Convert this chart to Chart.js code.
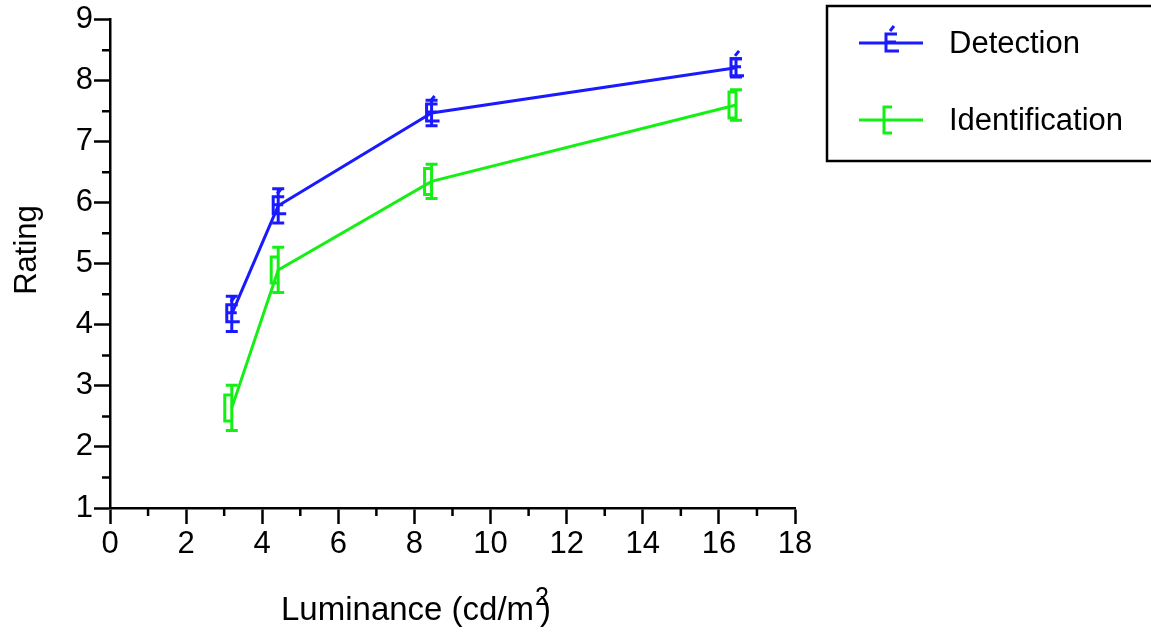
<!DOCTYPE html>
<html lang="en">
<head>
    <meta charset="UTF-8">
    <title>Rating vs Luminance</title>
    <script src="https://cdn.jsdelivr.net/npm/chart.js"></script>
    <style>
        body {
            margin: 0;
            background: #ffffff;
        }
        #wrap {
            width: 1151px;
            height: 632px;
        }
    </style>
</head>
<body>
    <div id="wrap">
        <canvas id="ratingChart" width="1151" height="632"></canvas>
    </div>

    <script>
        // values
        const luminance = [3.2, 4.42, 8.45, 16.45];
        const detection = [4.18, 5.95, 7.47, 8.21];
        const detectionErr = [0.29, 0.28, 0.21, 0.15];
        const identification = [2.64, 4.9, 6.35, 7.6];
        const identificationErr = [0.37, 0.37, 0.28, 0.25];

        const xTicks = [0, 2, 4, 6, 8, 10, 12, 14, 16, 18];
        const yTicks = [1, 2, 3, 4, 5, 6, 7, 8, 9];

        const FONT = "'Liberation Sans', Arial, sans-serif";
        const BLUE = "#1a1aff";
        const GREEN = "#14f014";

        function toPoints(xs, ys) {
            return xs.map((x, i) => ({ x: x, y: ys[i] }));
        }

        // marker shapes (the original uses odd font glyphs)
        function drawE(ctx, x, y, color) {
            ctx.save();
            ctx.strokeStyle = color;
            ctx.lineWidth = 3;
            ctx.beginPath();
            ctx.moveTo(x + 6, y - 9);
            ctx.lineTo(x - 5, y - 9);
            ctx.lineTo(x - 5, y + 8);
            ctx.lineTo(x + 8, y + 8);
            ctx.moveTo(x - 5, y - 1);
            ctx.lineTo(x + 5, y - 1);
            ctx.moveTo(x - 1, y - 12);
            ctx.lineTo(x + 3, y - 17);
            ctx.stroke();
            ctx.restore();
        }

        function drawBracket(ctx, x, y, color) {
            ctx.save();
            ctx.strokeStyle = color;
            ctx.lineWidth = 3;
            ctx.beginPath();
            ctx.moveTo(x + 1, y - 13);
            ctx.lineTo(x - 7, y - 13);
            ctx.lineTo(x - 7, y + 13);
            ctx.lineTo(x + 1, y + 13);
            ctx.stroke();
            ctx.restore();
        }

        const errorBars = {
            id: "errorBars",
            afterDatasetsDraw(chart) {
                const ctx = chart.ctx;
                const xs = chart.scales.x;
                const ys = chart.scales.y;
                chart.data.datasets.forEach(ds => {
                    ds.data.forEach((p, i) => {
                        const px = xs.getPixelForValue(p.x);
                        const py = ys.getPixelForValue(p.y);
                        const top = ys.getPixelForValue(p.y + ds.errors[i]);
                        const bot = ys.getPixelForValue(p.y - ds.errors[i]);
                        ctx.save();
                        ctx.strokeStyle = ds.borderColor;
                        ctx.lineWidth = 3;
                        ctx.beginPath();
                        ctx.moveTo(px, top);
                        ctx.lineTo(px, bot);
                        ctx.moveTo(px - 6, top);
                        ctx.lineTo(px + 6, top);
                        ctx.moveTo(px - 6, bot);
                        ctx.lineTo(px + 6, bot);
                        ctx.stroke();
                        ctx.restore();
                        ds.marker(ctx, px, py, ds.borderColor);
                    });
                });
            }
        };

        const extras = {
            id: "extras",
            afterDraw(chart) {
                const ctx = chart.ctx;
                const xs = chart.scales.x;
                const ys = chart.scales.y;
                const area = chart.chartArea;

                // minor ticks
                ctx.save();
                ctx.strokeStyle = "#000";
                ctx.lineWidth = 2.5;
                ctx.beginPath();
                for (let v = 1; v < 18; v += 2) {
                    const px = xs.getPixelForValue(v);
                    ctx.moveTo(px, area.bottom);
                    ctx.lineTo(px, area.bottom + 8);
                }
                for (let v = 1.5; v < 9; v += 1) {
                    const py = ys.getPixelForValue(v);
                    ctx.moveTo(area.left - 8, py);
                    ctx.lineTo(area.left, py);
                }
                ctx.stroke();

                // axis titles
                ctx.fillStyle = "#000";
                ctx.textBaseline = "alphabetic";
                ctx.textAlign = "left";
                const main = "Luminance (cd/m";
                ctx.font = "33px " + FONT;
                const wMain = ctx.measureText(main).width;
                const tx = 281;
                ctx.fillText(main, tx, 620);
                ctx.font = "25px " + FONT;
                ctx.fillText("2", tx + wMain + 1, 605);
                ctx.font = "33px " + FONT;
                ctx.fillText(")", tx + wMain + 6, 620);

                ctx.save();
                ctx.translate(36, 250);
                ctx.rotate(-Math.PI / 2);
                ctx.textAlign = "center";
                ctx.font = "31px " + FONT;
                ctx.fillText("Rating", 0, 0);
                ctx.restore();

                // legend box
                ctx.lineWidth = 2.5;
                ctx.strokeStyle = "#000";
                ctx.strokeRect(827, 6, 340, 155);
                const rows = [43, 120];
                chart.data.datasets.forEach((ds, i) => {
                    const y = rows[i];
                    ctx.strokeStyle = ds.borderColor;
                    ctx.lineWidth = 3;
                    ctx.beginPath();
                    ctx.moveTo(859, y);
                    ctx.lineTo(923, y);
                    ctx.stroke();
                    ds.marker(ctx, 891, y, ds.borderColor);
                    ctx.fillStyle = "#000";
                    ctx.font = "31px " + FONT;
                    ctx.textAlign = "left";
                    ctx.textBaseline = "middle";
                    ctx.fillText(ds.label, 949, y + 1);
                });
                ctx.restore();
            }
        };

        new Chart(document.getElementById("ratingChart"), {
            type: "line",
            data: {
                datasets: [
                    {
                        label: "Detection",
                        data: toPoints(luminance, detection),
                        errors: detectionErr,
                        marker: drawE,
                        borderColor: BLUE,
                        borderWidth: 3,
                        pointRadius: 0,
                        fill: false
                    },
                    {
                        label: "Identification",
                        data: toPoints(luminance, identification),
                        errors: identificationErr,
                        marker: drawBracket,
                        borderColor: GREEN,
                        borderWidth: 3,
                        pointRadius: 0,
                        fill: false
                    }
                ]
            },
            options: {
                responsive: false,
                animation: false,
                layout: { padding: { top: 19, right: 356, left: 0, bottom: 0 } },
                plugins: {
                    legend: { display: false },
                    tooltip: { enabled: false }
                },
                scales: {
                    x: {
                        type: "linear",
                        min: 0,
                        max: 18,
                        afterBuildTicks: s => { s.ticks = xTicks.map(v => ({ value: v })); },
                        afterFit: s => { s.height = 124; },
                        ticks: { padding: 2, maxRotation: 0, color: "#000", font: { family: FONT, size: 31 } },
                        grid: { drawOnChartArea: false, drawTicks: true, tickLength: 16, tickWidth: 2.5, tickColor: "#000" },
                        border: { color: "#000", width: 2.5 }
                    },
                    y: {
                        type: "linear",
                        min: 1,
                        max: 9,
                        afterBuildTicks: s => { s.ticks = yTicks.map(v => ({ value: v })); },
                        afterFit: s => { s.width = 110; },
                        ticks: { padding: 1, color: "#000", font: { family: FONT, size: 31 } },
                        grid: { drawOnChartArea: false, drawTicks: true, tickLength: 16, tickWidth: 2.5, tickColor: "#000" },
                        border: { color: "#000", width: 2.5 }
                    }
                }
            },
            plugins: [errorBars, extras]
        });
    </script>
</body>
</html>
